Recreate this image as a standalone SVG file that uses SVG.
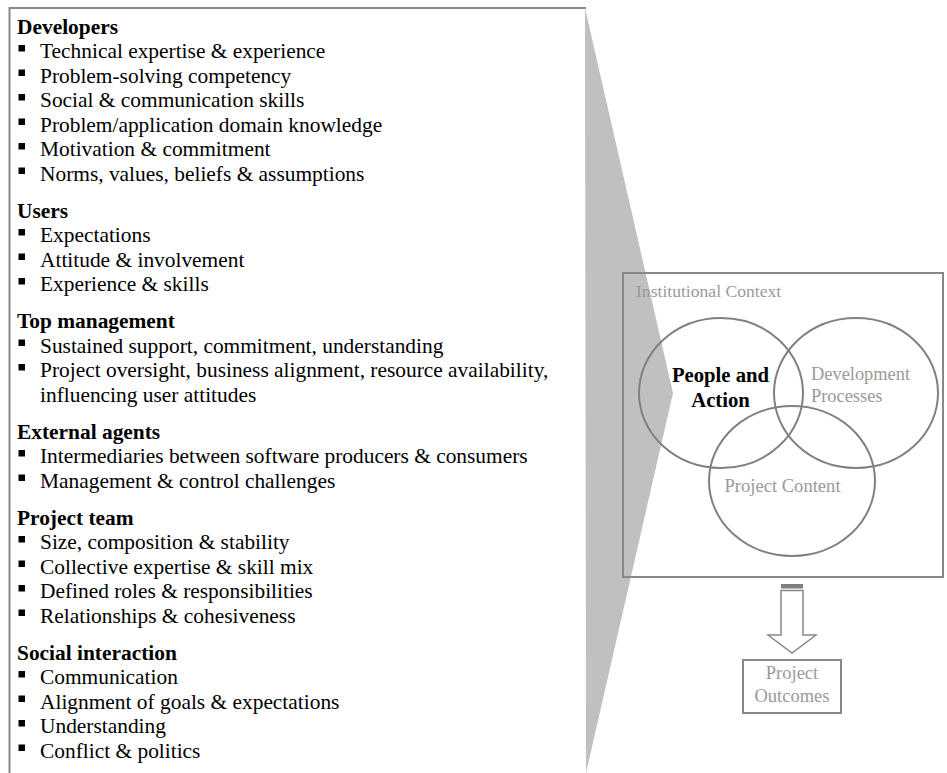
<svg xmlns="http://www.w3.org/2000/svg" width="947" height="773" viewBox="0 0 947 773">
<style>
.t{font-family:"Liberation Serif","Times New Roman",serif;font-size:21.4px;fill:#000}
.h{font-weight:bold}
.g{font-family:"Liberation Serif","Times New Roman",serif;fill:#9a9a9a}
.ln{fill:none;stroke:#888;stroke-width:2}
.c{fill:none;stroke:#808080;stroke-width:2}
</style>
<defs>
<rect id="b" width="6.5" height="6.5" fill="#000"/>
</defs>
<rect width="947" height="773" fill="#fff"/>
<g id="funnel">
<polygon points="585,8 673,393 586,773" fill="#c0c0c0"/>
</g>
<g id="factors">
<path class="ln" d="M586,8 H9.5 V773"/>
<text class="t h" x="17" y="33.5">Developers</text>
<use href="#b" x="18.5" y="45"/><text class="t" x="40" y="58">Technical expertise &amp; experience</text>
<use href="#b" x="18.5" y="69.5"/><text class="t" x="40" y="82.5">Problem-solving competency</text>
<use href="#b" x="18.5" y="94"/><text class="t" x="40" y="107">Social &amp; communication skills</text>
<use href="#b" x="18.5" y="118.5"/><text class="t" x="40" y="131.5">Problem/application domain knowledge</text>
<use href="#b" x="18.5" y="143"/><text class="t" x="40" y="156">Motivation &amp; commitment</text>
<use href="#b" x="18.5" y="167.5"/><text class="t" x="40" y="180.5">Norms, values, beliefs &amp; assumptions</text>
<text class="t h" x="17" y="217.5">Users</text>
<use href="#b" x="18.5" y="229"/><text class="t" x="40" y="242">Expectations</text>
<use href="#b" x="18.5" y="253.5"/><text class="t" x="40" y="266.5">Attitude &amp; involvement</text>
<use href="#b" x="18.5" y="278"/><text class="t" x="40" y="291">Experience &amp; skills</text>
<text class="t h" x="17" y="328">Top management</text>
<use href="#b" x="18.5" y="339.5"/><text class="t" x="40" y="352.5">Sustained support, commitment, understanding</text>
<use href="#b" x="18.5" y="364"/><text class="t" x="40" y="377">Project oversight, business alignment, resource availability,</text>
<text class="t" x="40" y="401.5">influencing user attitudes</text>
<text class="t h" x="17" y="438.5">External agents</text>
<use href="#b" x="18.5" y="450"/><text class="t" x="40" y="463">Intermediaries between software producers &amp; consumers</text>
<use href="#b" x="18.5" y="474.5"/><text class="t" x="40" y="487.5">Management &amp; control challenges</text>
<text class="t h" x="17" y="524.5">Project team</text>
<use href="#b" x="18.5" y="536"/><text class="t" x="40" y="549">Size, composition &amp; stability</text>
<use href="#b" x="18.5" y="560.5"/><text class="t" x="40" y="573.5">Collective expertise &amp; skill mix</text>
<use href="#b" x="18.5" y="585"/><text class="t" x="40" y="598">Defined roles &amp; responsibilities</text>
<use href="#b" x="18.5" y="609.5"/><text class="t" x="40" y="622.5">Relationships &amp; cohesiveness</text>
<text class="t h" x="17" y="659.5">Social interaction</text>
<use href="#b" x="18.5" y="671"/><text class="t" x="40" y="684">Communication</text>
<use href="#b" x="18.5" y="695.5"/><text class="t" x="40" y="708.5">Alignment of goals &amp; expectations</text>
<use href="#b" x="18.5" y="720"/><text class="t" x="40" y="733">Understanding</text>
<use href="#b" x="18.5" y="744.5"/><text class="t" x="40" y="757.5">Conflict &amp; politics</text>
</g>
<g id="institutional-context">
<rect class="ln" x="623" y="273" width="320" height="304"/>
<text class="g" x="636" y="297" font-size="17.6">Institutional Context</text>
</g>
<g id="people-and-action">
<ellipse class="c" cx="721" cy="393" rx="82" ry="75"/>
<text x="720.5" y="382" text-anchor="middle" font-family="Liberation Serif, serif" font-size="20.7" font-weight="bold" fill="#000">People and</text>
<text x="720.5" y="407" text-anchor="middle" font-family="Liberation Serif, serif" font-size="20.7" font-weight="bold" fill="#000">Action</text>
</g>
<g id="development-processes">
<ellipse class="c" cx="856" cy="393" rx="82" ry="75"/>
<text class="g" x="811" y="380" font-size="18.4">Development</text>
<text class="g" x="811" y="401.5" font-size="18.4">Processes</text>
</g>
<g id="project-content">
<ellipse class="c" cx="792" cy="481" rx="83" ry="75"/>
<text class="g" x="782.5" y="492" font-size="18.6" text-anchor="middle">Project Content</text>
</g>
<g id="connectors">
<rect x="781" y="584" width="22" height="4.5" fill="#808080"/>
<path d="M781,590.5 H803 V635 H816 L792,653 L768,635 H781 Z" fill="#fff" stroke="#888" stroke-width="1.5"/>
</g>
<g id="project-outcomes">
<rect class="ln" x="743" y="660" width="98" height="53" fill="#fff"/>
<text class="g" x="792" y="679" font-size="18.5" text-anchor="middle">Project</text>
<text class="g" x="792" y="702" font-size="18.5" text-anchor="middle">Outcomes</text>
</g>
</svg>
